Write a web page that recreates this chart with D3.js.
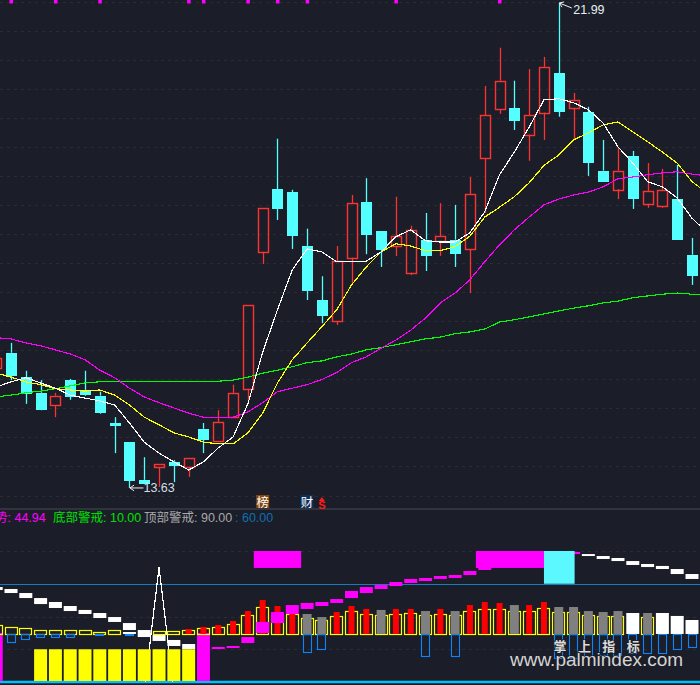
<!DOCTYPE html>
<html>
<head>
<meta charset="utf-8">
<script src="https://cdn.jsdelivr.net/npm/d3@7"></script>
<style>
  html, body { margin: 0; padding: 0; background: #1b1e28; overflow: hidden; }
  svg { display: block; }
  text { font-family: "Liberation Sans", "Noto Sans CJK SC", sans-serif; }
</style>
</head>
<body>
<svg id="chart"></svg>
<script>
// Candles (one entry per trading day)
const opens = [15.70,15.96,15.54,15.27,15.06,15.49,15.32,15.22,14.75,14.42,13.77,13.99,14.08,13.99,14.65,14.44,14.85,15.34,17.70,18.78,18.73,17.80,16.87,16.51,17.60,18.56,18.06,17.80,17.34,17.91,17.89,17.91,17.75,19.32,20.16,20.18,19.72,20.10,20.78,20.18,20.11,19.10,18.78,19.35,18.53,18.49,18.61,17.65];
const closes = [15.87,15.58,15.27,14.99,15.22,15.22,15.25,14.94,14.72,13.77,13.72,14.04,14.03,14.15,14.47,14.77,15.27,16.79,18.46,18.46,17.99,17.04,16.61,17.54,18.54,18.01,17.75,17.97,18.08,17.66,17.97,17.68,18.70,20.06,20.65,19.97,20.06,20.89,20.13,20.32,19.25,18.92,19.10,18.63,18.75,18.77,17.92,17.30];
const highs = [15.87,16.13,15.65,15.49,15.27,15.51,15.65,15.29,14.85,14.42,14.16,14.04,14.11,14.15,14.75,14.97,15.41,16.79,18.46,19.65,18.77,18.10,17.28,17.80,18.68,18.97,18.06,18.65,18.15,18.37,18.54,18.51,18.99,20.56,21.22,20.65,20.85,21.06,21.99,20.44,20.20,19.63,19.49,19.44,19.23,19.13,19.20,17.94];
const lows = [15.70,15.49,15.08,14.97,14.85,15.15,15.22,14.91,14.23,13.63,13.72,13.65,13.73,13.82,14.23,14.42,14.85,15.15,17.49,18.25,17.75,16.87,16.47,16.44,17.16,17.66,17.44,17.63,17.30,17.37,17.63,17.44,16.99,18.37,20.08,19.80,19.27,19.63,20.03,19.63,19.01,18.92,18.61,18.44,18.46,18.46,17.91,17.13];

// Moving averages (the extra last value runs off the right edge)
const maWhite = [15.37,15.46,15.53,15.44,15.35,15.23,15.18,15.13,15.06,14.75,14.42,14.23,14.08,13.94,14.08,14.32,14.51,15.08,15.97,16.70,17.39,17.75,17.70,17.53,17.53,17.54,17.70,17.96,18.08,17.89,17.87,17.87,18.03,18.39,19.03,19.42,19.85,20.32,20.34,20.27,20.15,19.92,19.51,19.23,18.91,18.82,18.63,18.28,18.04];
const maYellow = [15.61,15.54,15.46,15.41,15.34,15.32,15.30,15.32,15.23,15.06,14.85,14.72,14.58,14.51,14.42,14.39,14.39,14.58,14.92,15.44,15.84,16.13,16.41,16.70,17.13,17.44,17.70,17.84,17.80,17.72,17.72,17.79,17.97,18.30,18.47,18.65,18.89,19.19,19.37,19.63,19.75,19.89,19.94,19.77,19.60,19.42,19.23,18.91,18.72];
const maMagenta = [16.22,16.20,16.13,16.08,16.01,15.94,15.84,15.66,15.53,15.35,15.20,15.10,15.01,14.92,14.85,14.85,14.85,14.94,15.10,15.29,15.35,15.41,15.50,15.62,15.79,15.89,16.04,16.18,16.35,16.56,16.82,16.99,17.22,17.53,17.82,18.08,18.30,18.51,18.61,18.68,18.73,18.82,18.96,18.99,19.03,19.06,19.08,19.04,19.01];
const maGreen = [15.20,15.23,15.27,15.30,15.34,15.39,15.44,15.46,15.46,15.47,15.47,15.47,15.47,15.46,15.46,15.47,15.49,15.54,15.61,15.66,15.72,15.79,15.82,15.89,15.94,16.01,16.05,16.10,16.15,16.20,16.23,16.29,16.32,16.37,16.49,16.53,16.58,16.63,16.68,16.73,16.77,16.82,16.85,16.91,16.94,16.97,16.99,16.97,16.96];

const priceGrid = [13.5,14,14.5,15,15.5,16,16.5,17,17.5,18,18.5,19,19.5,20,20.5,21,21.5,22];
const signalDays = [1,4,7,13,14,17,19,21,27,34]; // magenta ticks along the top

// Lower indicator panel
const baseLevel = 14;
const yellowTops = [22.2,20.4,19.5,17.6,17.6,17.6,17.6,15.8,17.6,null,null,16.7,16.7,17.6,19.5,20.4,23.1,31.4,38.7,31.4,32.3,28.6,26.8,30.5,35,32.3,31.4,32.3,33.2,31.4,32.3,31.4,35,36.9,36.9,35,35,37.8,34.1,34.1,31.4,30.5,30.5,null,29.5,null,null,null];
const redTops = [null,null,null,null,null,null,null,null,null,null,null,null,null,18.5,20.4,22.2,25.9,35,45.1,39.6,34,null,null,34.1,39.6,36.9,null,36.9,36.9,null,36.9,null,40.5,43.3,42.4,null,40.5,43.3,null,null,null,null,null,null,null,null,null,null];
const grayTops = [null,null,null,null,null,null,null,null,null,null,null,null,null,null,null,null,null,null,null,null,null,32.3,29.5,null,null,null,36,null,null,35,null,35,null,null,null,40.5,null,null,38.7,38.7,35,34.1,35,null,33.2,null,null,null];
const whiteTops = [null,null,null,null,null,null,null,null,null,15.8,null,null,null,null,null,null,null,null,null,null,null,null,null,null,null,null,null,null,null,null,null,null,null,null,null,null,null,null,null,null,null,null,null,33.2,null,33.2,30.5,26.8];
const blueBottoms = [null,6.6,9.4,11.2,11.2,11.2,null,13,null,13,null,null,null,null,null,null,null,null,null,null,null,-2.5,0.2,null,null,null,null,null,null,-6.2,null,-6.2,null,null,null,null,null,null,-8,-8,-6.2,-5.3,-5.3,-3.4,-3.4,-3.4,0.2,2.1];
const trendHighs = [57,55.2,51.5,46.9,43.3,39.6,36,33.2,29.5,24,17.6,13,8.5,4.8,null,2.1,3,11.2,25,34.1,40.5,42.4,43.3,46,53.4,57,58.9,61.6,64.4,65.3,67.1,68,71.7,75.3,null,null,null,null,null,89.1,87.2,85.4,83.6,80.8,78.1,76.3,73.5,68.9];
const trendLows = [54.3,51.5,46.9,41.4,37.8,35,32.3,28.6,25,17.6,11.2,7.6,3,0.2,null,0.2,1.1,5.7,14.9,24,32.3,36.9,39.6,42.4,46.9,51.5,55.2,57.9,60.7,62.5,64.4,65.3,68,72.6,null,null,null,null,null,87.2,85.4,82.7,80.8,77.2,75.3,73.5,68.9,64.4];
const floorDays = [0,3,4,5,6,7,8,9,10,11,12,13,14];
const floorTops = [14.9,0,0,0,0,0,0,0,0,0,0,0,14.9];
const spikeDays = [10,11,12];
const spikeVals = [-38,75,-38];
const zoneFrom = [17.4,32.4,37];
const zoneTo = [20.6,37,39.07];
const zoneBottoms = [74.5,74.5,60];
const indicatorGrid = [90,30,0];

const W = 700, H = 685;
const days = d3.range(opens.length);

const svg = d3.select("#chart").attr("width", W).attr("height", H);

const x = d3.scaleLinear().domain([0, 47]).range([-3.8, 692]);
const y = d3.scaleLinear().domain([13.5, 22]).range([495.5, 2.4]);
const yInd = d3.scaleLinear().domain([-30, 90]).range([682, 551]);

// snap to the pixel grid so thin strokes stay bright
const snap = (v) => Math.round(v) + 0.5;

const COL = {
  bg: "#1b1e28",
  grid: "#292c36",
  red: "#ff3232",
  cyan: "#54ffff",
  magenta: "#ff00ff",
  yellow: "#ffff00",
  green: "#00ff00",
  blue: "#0a84ff",
  line: "#0f7fbf",
};

// ---- main panel ----
const main = svg.append("g");

const gridG = main
  .append("g")
  .call(d3.axisLeft(y).tickValues(priceGrid).tickSize(-W).tickFormat(""));
gridG.select(".domain").remove();
gridG
  .selectAll("line")
  .attr("stroke", COL.grid)
  .attr("stroke-dasharray", "3 4")
  .attr("shape-rendering", "crispEdges");

main
  .append("line")
  .attr("x1", 0)
  .attr("x2", W)
  .attr("y1", 509)
  .attr("y2", 509)
  .attr("stroke", "#3a3d46")
  .attr("stroke-width", 1.5);

// top signal ticks
main
  .append("g")
  .selectAll("rect")
  .data(signalDays)
  .join("rect")
  .attr("x", (d) => x(d) - 1.5)
  .attr("y", 0)
  .attr("width", 3.5)
  .attr("height", 3.5)
  .attr("fill", COL.magenta);

// candles
const isUp = (i) => closes[i] >= opens[i];
const bodyTop = (i) => y(Math.max(opens[i], closes[i]));
const bodyBot = (i) => y(Math.min(opens[i], closes[i]));
const BODY_W = 10;

const candleG = main.append("g");
const candle = candleG.selectAll("g").data(days).join("g");

candle
  .append("line")
  .attr("x1", (i) => snap(x(i)))
  .attr("x2", (i) => snap(x(i)))
  .attr("y1", (i) => y(highs[i]))
  .attr("y2", (i) => bodyTop(i))
  .attr("stroke", (i) => (isUp(i) ? COL.red : COL.cyan))
  .attr("stroke-width", 1.3);
candle
  .append("line")
  .attr("x1", (i) => snap(x(i)))
  .attr("x2", (i) => snap(x(i)))
  .attr("y1", (i) => bodyBot(i))
  .attr("y2", (i) => y(lows[i]))
  .attr("stroke", (i) => (isUp(i) ? COL.red : COL.cyan))
  .attr("stroke-width", 1.3);
candle
  .append("rect")
  .attr("x", (i) => snap(x(i)) - BODY_W / 2)
  .attr("y", (i) => snap(bodyTop(i)))
  .attr("width", BODY_W)
  .attr("height", (i) => Math.max(1, Math.round(bodyBot(i) - bodyTop(i))))
  .attr("fill", (i) => (isUp(i) ? "none" : COL.cyan))
  .attr("stroke", (i) => (isUp(i) ? COL.red : COL.cyan))
  .attr("stroke-width", (i) => (isUp(i) ? 1.4 : 1));

// moving averages
const maLine = d3
  .line()
  .x((d, i) => x(i))
  .y((d) => y(d));

[
  [maGreen, COL.green],
  [maMagenta, COL.magenta],
  [maYellow, COL.yellow],
  [maWhite, "#ffffff"],
].forEach(([vals, color]) => {
  main
    .append("path")
    .attr("d", maLine(vals))
    .attr("fill", "none")
    .attr("stroke", color)
    .attr("stroke-width", 1.15)
    .attr("shape-rendering", "crispEdges");
});

// high / low labels
const hiDay = highs.indexOf(d3.max(highs));
const loDay = lows.indexOf(d3.min(lows));
const arrowPath = (x0, y0, x1, y1) => {
  const a = Math.atan2(y1 - y0, x1 - x0);
  const head = 5;
  const p1 = [x0 + head * Math.cos(a - 0.6), y0 + head * Math.sin(a - 0.6)];
  const p2 = [x0 + head * Math.cos(a + 0.6), y0 + head * Math.sin(a + 0.6)];
  return `M${x1},${y1}L${x0},${y0}M${p1}L${x0},${y0}L${p2}`;
};

main
  .append("path")
  .attr("d", arrowPath(x(hiDay) + 0.5, y(highs[hiDay]), x(hiDay) + 13, y(highs[hiDay]) + 5))
  .attr("fill", "none")
  .attr("stroke", "#f0f0f0")
  .attr("stroke-width", 1);
main
  .append("text")
  .attr("x", x(hiDay) + 14.5)
  .attr("y", y(highs[hiDay]) + 11)
  .attr("font-size", 12.5)
  .attr("fill", "#e6eef4")
  .text(highs[hiDay].toFixed(2));

main
  .append("path")
  .attr("d", arrowPath(x(loDay) + 0.5, y(lows[loDay]), x(loDay) + 14, y(lows[loDay])))
  .attr("fill", "none")
  .attr("stroke", "#f0f0f0")
  .attr("stroke-width", 1);
main
  .append("text")
  .attr("x", x(loDay) + 14)
  .attr("y", y(lows[loDay]) + 4.5)
  .attr("font-size", 12.5)
  .attr("fill", "#d4dee6")
  .text(lows[loDay].toFixed(2));

// event badges under the candles
const badges = [
  { day: 18, label: "榜", bg: "#84470f" },
  { day: 21, label: "财", bg: "#0c2f5a" },
];
badges.forEach((b) => {
  main
    .append("rect")
    .attr("x", x(b.day) - 6.5)
    .attr("y", 495)
    .attr("width", 13)
    .attr("height", 13)
    .attr("fill", b.bg);
  main
    .append("text")
    .attr("x", x(b.day))
    .attr("y", 506.5)
    .attr("text-anchor", "middle")
    .attr("font-size", 12.5)
    .attr("fill", "#ffffff")
    .text(b.label);
});
main
  .append("path")
  .attr("d", `M${x(22) - 3},501L${x(22)},497L${x(22) + 3},501Z`)
  .attr("fill", "#ff1a1a");
main
  .append("text")
  .attr("x", x(22))
  .attr("y", 508.5)
  .attr("text-anchor", "middle")
  .attr("font-size", 11)
  .attr("font-weight", 700)
  .attr("fill", "#ff1a1a")
  .text("S");

// ---- indicator panel ----
const ind = svg.append("g");

// legend
const legend = [
  { x: -5, text: "势: 44.94", fill: "#ff00ff" },
  { x: 53, text: "底部警戒: 10.00", fill: "#00e000" },
  { x: 144, text: "顶部警戒: 90.00", fill: "#a8a8a8" },
  { x: 235, text: ": 60.00", fill: "#0f6fb0" },
];
ind
  .append("g")
  .selectAll("text")
  .data(legend)
  .join("text")
  .attr("x", (d) => d.x)
  .attr("y", 522)
  .attr("font-size", 12.5)
  .attr("fill", (d) => d.fill)
  .text((d) => d.text);

const indGridG = ind
  .append("g")
  .call(d3.axisLeft(yInd).tickValues(indicatorGrid).tickSize(-W).tickFormat(""));
indGridG.select(".domain").remove();
indGridG
  .selectAll("line")
  .attr("stroke", COL.grid)
  .attr("stroke-dasharray", "3 4")
  .attr("shape-rendering", "crispEdges");

ind
  .append("line")
  .attr("x1", 0)
  .attr("x2", W)
  .attr("y1", snap(yInd(60)))
  .attr("y2", snap(yInd(60)))
  .attr("stroke", COL.line)
  .attr("stroke-width", 1.2);
ind
  .append("line")
  .attr("x1", 0)
  .attr("x2", W)
  .attr("y1", yInd(-30))
  .attr("y2", yInd(-30))
  .attr("stroke", "#00bfff")
  .attr("stroke-width", 2.5);

// clip so the spike stays inside the panel
svg
  .append("defs")
  .append("clipPath")
  .attr("id", "ind-clip")
  .append("rect")
  .attr("x", 0)
  .attr("y", 510)
  .attr("width", W)
  .attr("height", yInd(-30) - 510);

const spikeLine = d3
  .line()
  .x((d, i) => x(spikeDays[i]))
  .y((d) => yInd(d));
ind
  .append("path")
  .attr("clip-path", "url(#ind-clip)")
  .attr("d", spikeLine(spikeVals))
  .attr("fill", "none")
  .attr("stroke", "#ffffff")
  .attr("stroke-width", 1.2)
  .attr("shape-rendering", "crispEdges");

const WIDE = 13;
const NARROW = 9;
const RED_W = 6;

// floor bars (yellow / magenta) from the bottom line
ind
  .append("g")
  .selectAll("rect")
  .data(floorDays)
  .join("rect")
  .attr("x", (d) => x(d) - WIDE / 2)
  .attr("y", (d, i) => yInd(floorTops[i]))
  .attr("width", WIDE)
  .attr("height", (d, i) => yInd(-30) - 1 - yInd(floorTops[i]))
  .attr("fill", (d, i) => (floorTops[i] > 0 ? COL.magenta : COL.yellow));

// column helpers
function columns(vals) {
  return days.filter((i) => vals[i] !== null);
}

ind
  .append("g")
  .selectAll("rect")
  .data(columns(yellowTops))
  .join("rect")
  .attr("x", (i) => snap(x(i) - WIDE / 2))
  .attr("y", (i) => snap(yInd(yellowTops[i])))
  .attr("width", WIDE - 1)
  .attr("height", (i) => Math.round(yInd(baseLevel) - yInd(yellowTops[i])))
  .attr("fill", "none")
  .attr("stroke", COL.yellow)
  .attr("stroke-width", 1.2);

ind
  .append("g")
  .selectAll("rect")
  .data(columns(blueBottoms))
  .join("rect")
  .attr("x", (i) => snap(x(i) - NARROW / 2))
  .attr("y", snap(yInd(baseLevel)))
  .attr("width", NARROW - 1)
  .attr("height", (i) => Math.round(yInd(blueBottoms[i]) - yInd(baseLevel)))
  .attr("fill", "none")
  .attr("stroke", COL.blue)
  .attr("stroke-width", 1.1);

ind
  .append("g")
  .selectAll("rect")
  .data(columns(whiteTops))
  .join("rect")
  .attr("x", (i) => x(i) - WIDE / 2)
  .attr("y", (i) => yInd(whiteTops[i]))
  .attr("width", WIDE)
  .attr("height", (i) => yInd(baseLevel) - yInd(whiteTops[i]))
  .attr("fill", "#ffffff");

ind
  .append("g")
  .selectAll("rect")
  .data(columns(redTops))
  .join("rect")
  .attr("x", (i) => x(i) - RED_W / 2)
  .attr("y", (i) => yInd(redTops[i]))
  .attr("width", RED_W)
  .attr("height", (i) => yInd(baseLevel) - yInd(redTops[i]))
  .attr("fill", "#ff0000");

ind
  .append("g")
  .selectAll("rect")
  .data(columns(grayTops))
  .join("rect")
  .attr("x", (i) => x(i) - NARROW / 2)
  .attr("y", (i) => yInd(grayTops[i]))
  .attr("width", NARROW)
  .attr("height", (i) => yInd(baseLevel) - yInd(grayTops[i]))
  .attr("fill", "#808080");

// trend steps: white while falling, magenta while rising
const trendColor = (i) => (i >= 15 && i <= 39 ? COL.magenta : "#ffffff");
ind
  .append("g")
  .selectAll("rect")
  .data(columns(trendHighs))
  .join("rect")
  .attr("x", (i) => x(i) - WIDE / 2)
  .attr("y", (i) => yInd(trendHighs[i]))
  .attr("width", WIDE)
  .attr("height", (i) => yInd(trendLows[i]) - yInd(trendHighs[i]))
  .attr("fill", trendColor);

// big zones
ind
  .append("g")
  .selectAll("rect")
  .data(d3.range(zoneFrom.length))
  .join("rect")
  .attr("x", (i) => x(zoneFrom[i]))
  .attr("y", yInd(90))
  .attr("width", (i) => x(zoneTo[i]) - x(zoneFrom[i]))
  .attr("height", (i) => yInd(zoneBottoms[i]) - yInd(90))
  .attr("fill", (i) => (zoneBottoms[i] > 60 ? COL.magenta : "#5cf8ff"));

// watermark
const wmChars = ["掌", "上", "指", "标"];
ind
  .append("g")
  .selectAll("text")
  .data(wmChars)
  .join("text")
  .attr("x", (d, i) => 560 + i * 24.4)
  .attr("y", 651)
  .attr("text-anchor", "middle")
  .attr("font-size", 13)
  .attr("font-weight", 700)
  .attr("fill", "#dcdcdc")
  .attr("stroke", "#1b1e28")
  .attr("stroke-width", 1.5)
  .attr("paint-order", "stroke")
  .text((d) => d);
ind
  .append("text")
  .attr("x", 510)
  .attr("y", 666)
  .attr("font-size", 19)
  .attr("fill", "#d4d4d4")
  .attr("stroke", "#1b1e28")
  .attr("stroke-width", 1.5)
  .attr("paint-order", "stroke")
  .text("www.palmindex.com");
</script>
</body>
</html>
